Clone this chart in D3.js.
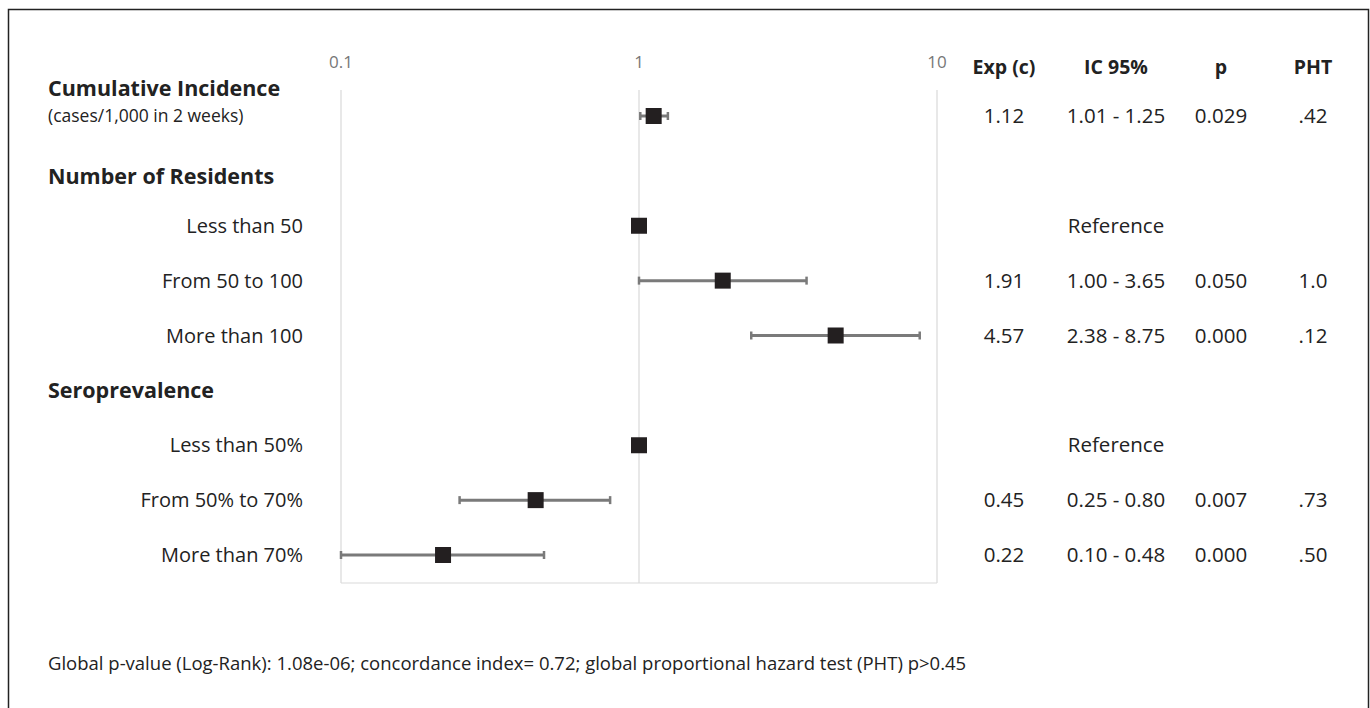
<!DOCTYPE html>
<html>
<head>
<meta charset="utf-8">
<script src="https://cdn.jsdelivr.net/npm/d3@7"></script>
<style>
  body { margin: 0; background: #fff; }
  svg { font-family: "Open Sans", "Noto Sans", sans-serif; }
</style>
</head>
<body>
<div id="chart"></div>
<script>
// Rows of the forest plot (headers have no estimate)
const labels = ["Cumulative Incidence", "Number of Residents", "Less than 50", "From 50 to 100", "More than 100",
                "Seroprevalence", "Less than 50%", "From 50% to 70%", "More than 70%"];
const isHeader = [true, true, false, false, false, true, false, false, false];
const estimates = [1.12, null, 1, 1.91, 4.57, null, 1, 0.45, 0.22];
const lower = [1.01, null, null, 1.00, 2.38, null, null, 0.25, 0.10];
const upper = [1.25, null, null, 3.65, 8.75, null, null, 0.80, 0.48];

// Table columns
const columns = ["Exp (c)", "IC 95%", "p", "PHT"];
const expText = ["1.12", "", "", "1.91", "4.57", "", "", "0.45", "0.22"];
const icText = ["1.01 - 1.25", "", "Reference", "1.00 - 3.65", "2.38 - 8.75", "", "Reference", "0.25 - 0.80", "0.10 - 0.48"];
const pText = ["0.029", "", "", "0.050", "0.000", "", "", "0.007", "0.000"];
const phtText = [".42", "", "", "1.0", ".12", "", "", ".73", ".50"];

const tickValues = [0.1, 1, 10];
const footnote = "Global p-value (Log-Rank): 1.08e-06; concordance index= 0.72; global proportional hazard test (PHT) p>0.45";

const W = 1370, H = 708;
const svg = d3.select("#chart").append("svg")
    .attr("width", W)
    .attr("height", H);

// outer frame
svg.append("rect")
    .attr("x", 8.5).attr("y", 9.5)
    .attr("width", 1360).attr("height", 720)
    .attr("fill", "none")
    .attr("stroke", "#222")
    .attr("stroke-width", 1.5);

// scales
const x = d3.scaleLog().domain([0.1, 10]).range([341, 937]);
const y = d3.scaleLinear().domain([0, labels.length - 1]).range([116, 555]);
const plotTop = 90, plotBottom = 583;

// gridlines
svg.selectAll(".grid")
    .data(tickValues)
    .enter().append("line")
    .attr("x1", d => x(d)).attr("x2", d => x(d))
    .attr("y1", plotTop).attr("y2", plotBottom)
    .attr("stroke", "#d9d9d9")
    .attr("stroke-width", 1.2);

svg.append("line")
    .attr("x1", x(0.1)).attr("x2", x(10))
    .attr("y1", plotBottom).attr("y2", plotBottom)
    .attr("stroke", "#d9d9d9")
    .attr("stroke-width", 1.2);

// tick labels on top
svg.selectAll(".tick-label")
    .data(tickValues)
    .enter().append("text")
    .attr("x", d => x(d))
    .attr("y", 62)
    .attr("dy", "0.35em")
    .attr("text-anchor", "middle")
    .attr("fill", "#777")
    .style("font-size", "17px")
    .text(d => d3.format("~g")(d));

// row labels
labels.forEach((lab, i) => {
    let ty = y(i);
    if (i === 0) ty = y(0) - 28;
    if (i === 1) ty = y(1) + 6;
    const t = svg.append("text")
        .attr("y", ty)
        .attr("dy", "0.35em")
        .attr("fill", "#222")
        .text(lab);
    if (isHeader[i]) {
        t.attr("x", 48).attr("text-anchor", "start")
            .style("font-size", "21.5px").style("font-weight", "bold");
    } else {
        t.attr("x", 303).attr("text-anchor", "end")
            .style("font-size", "20px");
    }
});

svg.append("text")
    .attr("x", 48).attr("y", y(0))
    .attr("dy", "0.35em")
    .attr("fill", "#222")
    .style("font-size", "17.5px")
    .text("(cases/1,000 in 2 weeks)");

// whiskers
const rows = d3.range(labels.length).filter(i => lower[i] !== null);
const capH = 8;
rows.forEach(i => {
    const g = svg.append("g").attr("stroke", "#7a7a7a");
    g.append("line")
        .attr("x1", x(lower[i])).attr("x2", x(upper[i]))
        .attr("y1", y(i)).attr("y2", y(i))
        .attr("stroke-width", 3);
    [lower[i], upper[i]].forEach(v => {
        g.append("line")
            .attr("x1", x(v)).attr("x2", x(v))
            .attr("y1", y(i) - capH / 2).attr("y2", y(i) + capH / 2)
            .attr("stroke-width", 2.5);
    });
});

// point markers
const pts = d3.range(labels.length).filter(i => estimates[i] !== null);
const sq = 16;
svg.selectAll(".marker")
    .data(pts)
    .enter().append("rect")
    .attr("x", i => x(estimates[i]) - sq / 2)
    .attr("y", i => y(i) - sq / 2)
    .attr("width", sq).attr("height", sq)
    .attr("fill", "#231f20");

// table
const colX = [1004, 1116, 1221, 1313];
svg.selectAll(".col-head")
    .data(columns)
    .enter().append("text")
    .attr("x", (d, j) => colX[j])
    .attr("y", 67)
    .attr("dy", "0.35em")
    .attr("text-anchor", "middle")
    .attr("fill", "#222")
    .style("font-size", "19.5px")
    .style("font-weight", "bold")
    .text(d => d);

[expText, icText, pText, phtText].forEach((col, j) => {
    col.forEach((txt, i) => {
        if (!txt) return;
        svg.append("text")
            .attr("x", colX[j])
            .attr("y", y(i))
            .attr("dy", "0.35em")
            .attr("text-anchor", "middle")
            .attr("fill", "#222")
            .style("font-size", "20.5px")
            .text(txt);
    });
});

// footnote
svg.append("text")
    .attr("x", 48).attr("y", 664)
    .attr("dy", "0.35em")
    .attr("fill", "#222")
    .style("font-size", "18.5px")
    .text(footnote);
</script>
</body>
</html>
